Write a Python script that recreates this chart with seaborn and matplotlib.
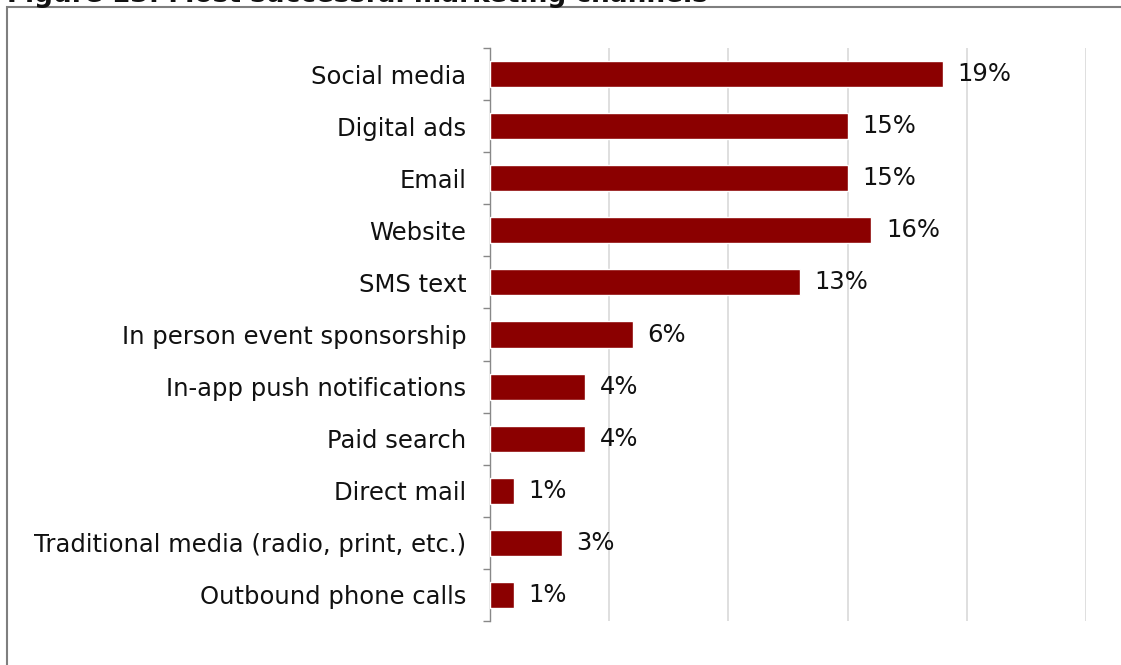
import matplotlib
matplotlib.use("Agg")
import matplotlib.pyplot as plt
from matplotlib.patches import Rectangle
from matplotlib.ticker import MultipleLocator, FixedLocator
import seaborn as sns
import pandas as pd

channels = [
    "Social media",
    "Digital ads",
    "Email",
    "Website",
    "SMS text",
    "In person event sponsorship",
    "In-app push notifications",
    "Paid search",
    "Direct mail",
    "Traditional media (radio, print, etc.)",
    "Outbound phone calls",
]
shares = [19, 15, 15, 16, 13, 6, 4, 4, 1, 3, 1]

title = "Figure 13: Most successful marketing channels"

df = pd.DataFrame({"channel": channels, "share": shares})

sns.set_theme(style="white")
plt.rcParams["font.family"] = "sans-serif"
plt.rcParams["font.sans-serif"] = ["DejaVu Sans"]

W, H = 1121, 665
fig = plt.figure(figsize=(W / 100, H / 100), dpi=100)
ax = fig.add_axes([490 / W, 1 - 621 / H, (1086 - 490) / W, (621 - 48) / H])

sns.barplot(data=df, x="share", y="channel", orient="h", color="#8b0000",
            saturation=1, width=0.5, ax=ax, zorder=3)

ax.set_xlim(0, 25)
ax.set_xlabel("")
ax.set_ylabel("")
ax.xaxis.set_major_locator(MultipleLocator(5))
ax.set_xticklabels([])
ax.tick_params(axis="x", length=0)
ax.grid(axis="x", color="#d9d9d9", linewidth=1.2, zorder=0)
ax.set_axisbelow(True)

# category labels without ticks, separators as minor ticks
ax.tick_params(axis="y", which="major", length=0, pad=17, labelsize=17.5,
               labelcolor="#111111")
ax.yaxis.set_minor_locator(FixedLocator([i - 0.5 for i in range(len(channels) + 1)]))
ax.tick_params(axis="y", which="minor", length=5, width=1, color="#888888", left=True)

for side in ["top", "right", "bottom"]:
    ax.spines[side].set_visible(False)
ax.spines["left"].set_color("#888888")
ax.spines["left"].set_linewidth(1)
ax.set_ylim(len(channels) - 0.5, -0.5)

ax.bar_label(ax.containers[0], labels=[f"{v}%" for v in shares],
             padding=10.5, fontsize=17.5, color="#111111")

# outer frame around the figure
fig.patches.append(Rectangle((7 / W, -0.1), 1.2, 1 - 7 / H + 0.1,
                             transform=fig.transFigure, fill=False,
                             edgecolor="#7f7f7f", linewidth=1.5))
fig.text(7 / W, 1 - 2 / H, title, fontsize=19, fontweight="bold",
         color="#111111", ha="left", va="baseline")

fig.savefig("out.png", dpi=100)
